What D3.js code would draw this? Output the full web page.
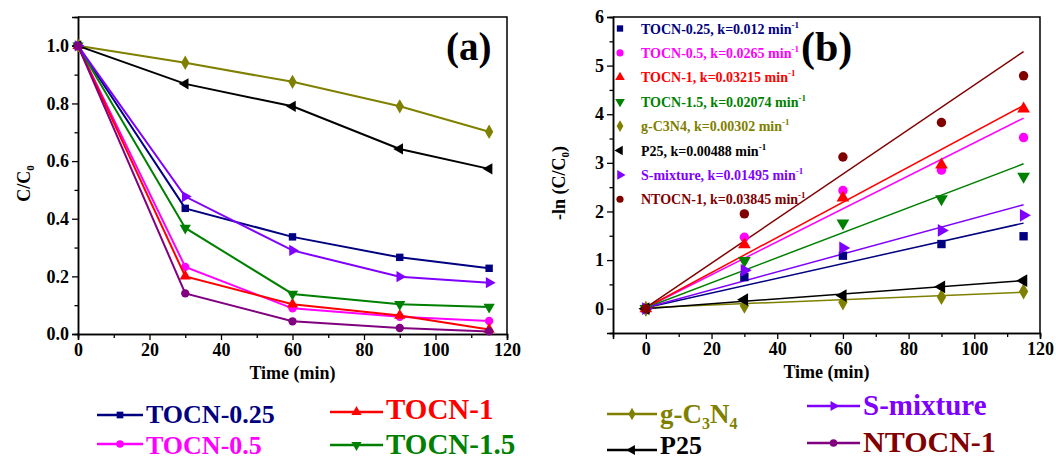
<!DOCTYPE html>
<html>
<head>
<meta charset="utf-8">
<script src="https://cdn.jsdelivr.net/npm/d3@7"></script>
<style>
  body { margin: 0; background: #fff; }
  svg text { font-family: "Liberation Serif", "Times New Roman", serif; font-weight: bold; }
</style>
</head>
<body>
<svg id="chart" width="1056" height="461"></svg>
<script>
// sampling times (min)
var times = [0, 30, 60, 90, 115];

var seriesNames = ["TOCN-0.25", "TOCN-0.5", "TOCN-1", "TOCN-1.5", "g-C3N4", "P25", "S-mixture", "NTOCN-1"];

// panel (a): C/C0
var ratioTOCN025 = [1.0, 0.436, 0.337, 0.266, 0.228];
var ratioTOCN05  = [1.0, 0.233, 0.089, 0.060, 0.045];
var ratioTOCN1   = [1.0, 0.200, 0.103, 0.064, 0.016];
var ratioTOCN15  = [1.0, 0.368, 0.139, 0.103, 0.094];
var ratioGCN     = [1.0, 0.941, 0.875, 0.790, 0.702];
var ratioP25     = [1.0, 0.868, 0.790, 0.642, 0.573];
var ratioSmix    = [1.0, 0.477, 0.290, 0.199, 0.178];
var ratioNTOCN1  = [1.0, 0.141, 0.044, 0.021, 0.009];

// panel (b): -ln(C/C0)
var lnTOCN025 = [0, 0.65, 1.09, 1.33, 1.49];
var lnTOCN05  = [0, 1.47, 2.43, 2.85, 3.52];
var lnTOCN1   = [0, 1.32, 2.28, 2.96, 4.11];
var lnTOCN15  = [0, 0.99, 1.76, 2.26, 2.72];
var lnGCN     = [0, 0.06, 0.13, 0.24, 0.356];
var lnP25     = [0, 0.185, 0.27, 0.45, 0.576];
var lnSmix    = [0, 0.79, 1.25, 1.61, 1.92];
var lnNTOCN1  = [0, 1.95, 3.12, 3.83, 4.79];

// fitted lines in (b): value at t=0 and at t=115
var fitStart = [0.02, 0.02, 0.02, 0.02, 0.02, 0.0, 0.02, 0.02];
var fitEnd   = [1.76, 3.92, 4.18, 2.98, 0.34, 0.58, 2.14, 5.29];
var rateK    = ["0.012", "0.0265", "0.03215", "0.02074", "0.00302", "0.00488", "0.01495", "0.03845"];

var xTicksA = [0, 20, 40, 60, 80, 100, 120];
var yTicksA = [0.0, 0.2, 0.4, 0.6, 0.8, 1.0];
var xTicksB = [0, 20, 40, 60, 80, 100, 120];
var yTicksB = [0, 1, 2, 3, 4, 5, 6];

var ratios = [ratioTOCN025, ratioTOCN05, ratioTOCN1, ratioTOCN15, ratioGCN, ratioP25, ratioSmix, ratioNTOCN1];
var lns = [lnTOCN025, lnTOCN05, lnTOCN1, lnTOCN15, lnGCN, lnP25, lnSmix, lnNTOCN1];

var colorsA = ["#000080", "#ff00ff", "#ff0000", "#008000", "#808000", "#000000", "#8000ff", "#800080"];
var colorsB = ["#000080", "#ff00ff", "#ff0000", "#008000", "#808000", "#000000", "#8000ff", "#800000"];
var textColors = ["#000080", "#ff00ff", "#ff0000", "#008000", "#808000", "#000000", "#8000ff", "#800000"];

// symbol type and rotation per series
var shapes = [d3.symbolSquare, d3.symbolCircle, d3.symbolTriangle, d3.symbolTriangle,
              d3.symbolDiamond, d3.symbolTriangle, d3.symbolTriangle, d3.symbolCircle];
var rotations = [0, 0, 0, 180, 0, -90, 90, 0];

var svg = d3.select("#chart");

function symbolPath(i, size) {
    return d3.symbol().type(shapes[i]).size(size)();
}

function drawAxes(g, x, y, xt, yt, xMinor, yMinor, xLabel, yLabelFn, yFormat) {
    var xr = x.range(), yr = y.range();
    g.append("g").attr("transform", "translate(0," + yr[0] + ")")
        .call(d3.axisBottom(x).tickValues(xt).tickSize(6).tickPadding(3).tickFormat(d3.format("d")));
    g.append("g").attr("transform", "translate(0," + yr[0] + ")")
        .call(d3.axisBottom(x).tickValues(xMinor).tickSize(4).tickFormat(""));
    g.append("g").attr("transform", "translate(" + xr[0] + ",0)")
        .call(d3.axisLeft(y).tickValues(yt).tickSize(6).tickPadding(3).tickFormat(yFormat));
    g.append("g").attr("transform", "translate(" + xr[0] + ",0)")
        .call(d3.axisLeft(y).tickValues(yMinor).tickSize(3.5).tickFormat(""));
    g.selectAll(".domain").attr("stroke-width", 1.5);
    g.selectAll(".tick line").attr("stroke-width", 1.3);
    g.selectAll(".tick text").style("font-size", "18px").attr("fill", "#000");
    // top and right frame
    g.append("path")
        .attr("d", "M" + xr[0] + "," + yr[1] + "H" + xr[1] + "V" + yr[0])
        .attr("fill", "none").attr("stroke", "#000").attr("stroke-width", 1.5);
    g.append("text")
        .attr("x", (xr[0] + xr[1]) / 2).attr("y", yr[0] + 45)
        .attr("text-anchor", "middle").style("font-size", "18px")
        .text(xLabel);
    yLabelFn(g.append("text")
        .attr("transform", "translate(" + (xr[0] - 48) + "," + ((yr[0] + yr[1]) / 2 + 8) + ") rotate(-90)")
        .attr("text-anchor", "middle").style("font-size", "18px"));
}

// ---------- panel (a) ----------
var xa = d3.scaleLinear().domain([0, 120]).range([78, 507]);
var ya = d3.scaleLinear().domain([0, 1.1]).range([334, 17]);
var ga = svg.append("g");

drawAxes(ga, xa, ya, xTicksA, yTicksA,
    [10, 30, 50, 70, 90, 110], [0.1, 0.3, 0.5, 0.7, 0.9],
    "Time (min)",
    function(t) {
        t.append("tspan").text("C/C");
        t.append("tspan").text("0").style("font-size", "11px").attr("dy", 4);
    },
    d3.format(".1f"));

var lineA = d3.line().x(function(d) { return xa(d[0]); }).y(function(d) { return ya(d[1]); });

ratios.forEach(function(vals, i) {
    var pts = times.map(function(t, j) { return [t, vals[j]]; });
    ga.append("path").datum(pts)
        .attr("d", lineA).attr("fill", "none")
        .attr("stroke", colorsA[i]).attr("stroke-width", 2);
    ga.selectAll(".ma" + i).data(pts).enter().append("path")
        .attr("d", symbolPath(i, i === 4 ? 60 : 55))
        .attr("transform", function(d) {
            return "translate(" + xa(d[0]) + "," + ya(d[1]) + ") rotate(" + rotations[i] + ")";
        })
        .attr("fill", colorsA[i]);
});

ga.append("text").attr("x", 446).attr("y", 60).style("font-size", "39px").text("(a)");

// ---------- panel (b) ----------
var xb = d3.scaleLinear().domain([-10, 120]).range([613, 1040]);
var yb = d3.scaleLinear().domain([-0.5, 6]).range([333, 17]);
var gb = svg.append("g");

drawAxes(gb, xb, yb, xTicksB, yTicksB,
    [10, 30, 50, 70, 90, 110], [-0.5, 0.5, 1.5, 2.5, 3.5, 4.5, 5.5],
    "Time (min)",
    function(t) {
        t.append("tspan").text("-ln (C/C");
        t.append("tspan").text("0").style("font-size", "11px").attr("dy", 4);
        t.append("tspan").text(")").attr("dy", -4);
    },
    d3.format("d"));

lns.forEach(function(vals, i) {
    gb.append("line")
        .attr("x1", xb(0)).attr("y1", yb(fitStart[i]))
        .attr("x2", xb(115)).attr("y2", yb(fitEnd[i]))
        .attr("stroke", colorsB[i]).attr("stroke-width", 1.5);
});

lns.forEach(function(vals, i) {
    gb.selectAll(".mb" + i).data(times).enter().append("path")
        .attr("d", symbolPath(i, i === 4 ? 75 : 70))
        .attr("transform", function(t, j) {
            return "translate(" + xb(t) + "," + yb(vals[j]) + ") rotate(" + rotations[i] + ")";
        })
        .attr("fill", colorsB[i]);
});

// inner legend of (b)
seriesNames.forEach(function(name, i) {
    var yy = 28.5 + i * 24.4;
    gb.append("path")
        .attr("d", symbolPath(i, 40))
        .attr("transform", "translate(620," + yy + ") rotate(" + rotations[i] + ")")
        .attr("fill", colorsB[i]);
    var t = gb.append("text").attr("x", 641).attr("y", yy + 5)
        .style("font-size", "14px").attr("fill", textColors[i]);
    t.append("tspan").text(name + ", k=" + rateK[i] + " min");
    t.append("tspan").text("-1").style("font-size", "9px").attr("dy", -6);
});

gb.append("text").attr("x", 801).attr("y", 61).style("font-size", "42px").text("(b)");

// ---------- bottom legend ----------
var legCol = [0, 0, 1, 1, 2, 2, 3, 3];
var legRow = [0, 1, 0, 1, 0, 1, 0, 1];
var colLineX = [[97, 143], [330, 383], [607, 657], [807, 860]];
var rowLineY = [[415, 444], [412, 445], [414, 450], [406, 443]];
var rowBase  = [[423, 454], [419, 454], [423, 454], [415, 452]];
var legFont  = [26, 26, 29, 29, 27, 26, 29, 30];

var gl = svg.append("g");
seriesNames.forEach(function(name, i) {
    var c = legCol[i], r = legRow[i];
    var lx = colLineX[c], ly = rowLineY[c][r];
    gl.append("line").attr("x1", lx[0]).attr("x2", lx[1]).attr("y1", ly).attr("y2", ly)
        .attr("stroke", colorsA[i]).attr("stroke-width", 2.5);
    gl.append("path")
        .attr("d", symbolPath(i, 45))
        .attr("transform", "translate(" + ((lx[0] + lx[1]) / 2) + "," + ly + ") rotate(" + rotations[i] + ")")
        .attr("fill", colorsA[i]);
    var t = gl.append("text").attr("x", lx[1] + 3).attr("y", rowBase[c][r])
        .style("font-size", legFont[i] + "px").attr("fill", textColors[i]);
    if (name === "g-C3N4") {
        var sub = Math.round(legFont[i] * 0.6) + "px";
        t.append("tspan").text("g-C");
        t.append("tspan").text("3").style("font-size", sub).attr("dy", 6);
        t.append("tspan").text("N").attr("dy", -6);
        t.append("tspan").text("4").style("font-size", sub).attr("dy", 6);
    } else {
        t.text(name);
    }
});
</script>
</body>
</html>
